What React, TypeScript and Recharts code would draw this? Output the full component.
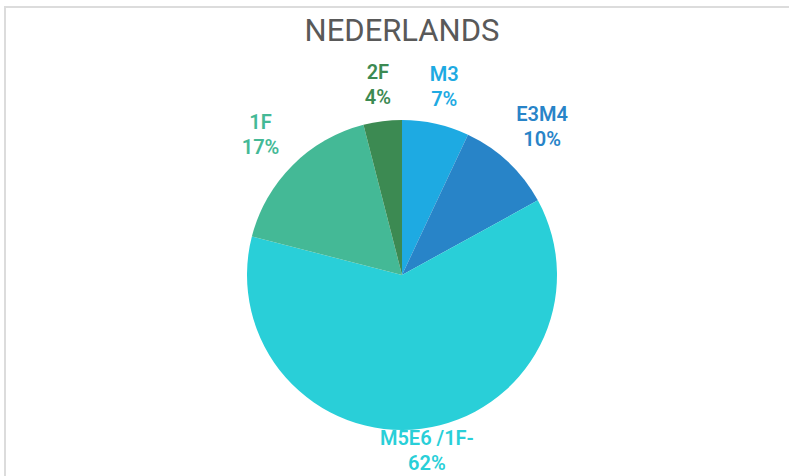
import React from "react";
import { PieChart, Pie, Cell } from "recharts";

const categories = ["M3", "E3M4", "M5E6 /1F-", "1F", "2F"];
const values = [7, 10, 62, 17, 4];
const colors = ["#1eaae2", "#2884c8", "#29cfd8", "#44b996", "#3c8a52"];
const title = "NEDERLANDS";

const data = categories.map((name, i) => ({ name, value: values[i] }));
const total = values.reduce((a, b) => a + b, 0);

const RAD = Math.PI / 180;

const renderLabel = (props: any) => {
  const { cx, cy, midAngle, outerRadius, index } = props;
  const name = categories[index];
  const pct = `${Math.round((values[index] / total) * 100)}%`;
  const theta = (90 - midAngle) * RAD; // from top, clockwise
  const halfW = Math.max(name.length, pct.length) * 7;
  const halfH = 20;
  const r = outerRadius + 16 + Math.abs(Math.sin(theta)) * halfW + Math.abs(Math.cos(theta)) * halfH;
  const x = cx + r * Math.cos(-midAngle * RAD);
  let y = cy + r * Math.sin(-midAngle * RAD);
  if (y > 450) y = 450;
  return (
    <text
      x={x}
      y={y - 5}
      textAnchor="middle"
      fill={colors[index]}
      fontFamily="Roboto, sans-serif"
      fontSize={20}
      fontWeight={600}
    >
      <tspan x={x} y={y - 5}>{name}</tspan>
      <tspan x={x} y={y + 20}>{pct}</tspan>
    </text>
  );
};

export default function App() {
  return (
    <div style={{ position: "fixed", left: 0, top: 0, width: 789, height: 476, background: "#fff", overflow: "hidden" }}>
      <style>{`body{margin:0}`}</style>
      <div
        style={{
          position: "absolute",
          left: 4,
          top: 6,
          width: 820,
          height: 520,
          border: "2px solid #dcdcdc",
          boxSizing: "border-box",
        }}
      />
      <div
        style={{
          position: "absolute",
          left: 0,
          width: 804,
          top: 13,
          textAlign: "center",
          fontFamily: "Roboto, sans-serif",
          fontSize: 31,
          fontWeight: 400,
          color: "#595959",
          lineHeight: "36px",
        }}
      >
        {title}
      </div>
      <div style={{ position: "absolute", left: 0, top: 0 }}>
        <PieChart width={789} height={476} margin={{ top: 0, right: 0, bottom: 0, left: 0 }}>
          <Pie
            data={data}
            dataKey="value"
            nameKey="name"
            cx={402}
            cy={275}
            outerRadius={155}
            startAngle={90}
            endAngle={-270}
            stroke="none"
            isAnimationActive={false}
            label={renderLabel}
            labelLine={false}
          >
            {data.map((d, i) => (
              <Cell key={d.name} fill={colors[i]} />
            ))}
          </Pie>
        </PieChart>
      </div>
    </div>
  );
}
